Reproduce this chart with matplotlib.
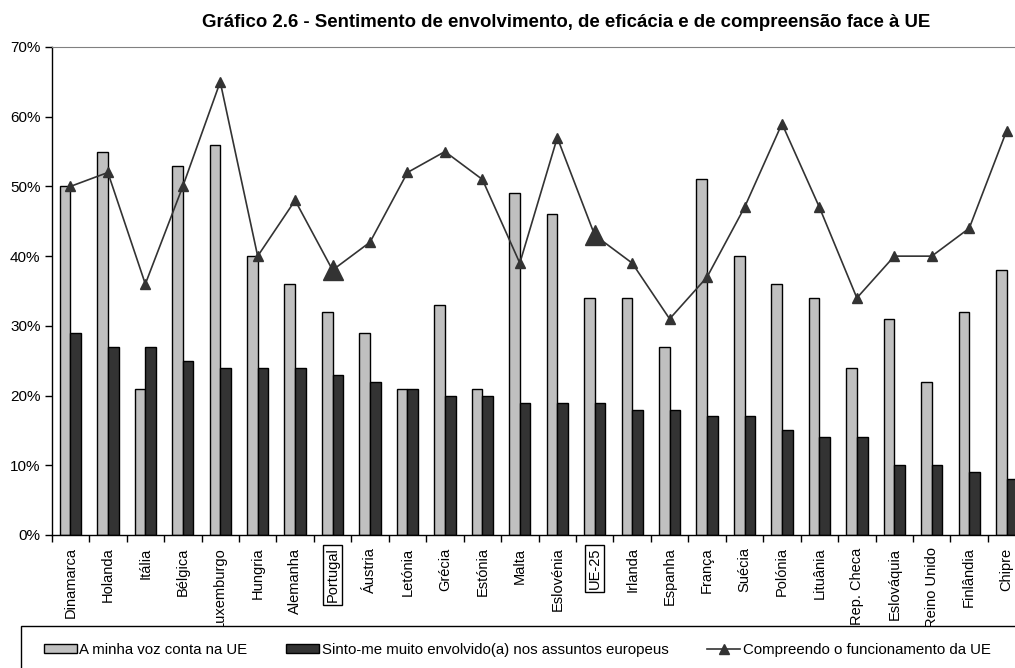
import numpy as np
import matplotlib
matplotlib.use("Agg")
import matplotlib.pyplot as plt
from matplotlib.patches import Patch, Rectangle
from matplotlib.lines import Line2D
from matplotlib.ticker import FixedLocator

plt.rcParams['font.family'] = ['Liberation Sans', 'DejaVu Sans']

paises = ["Dinamarca", "Holanda", "Itália", "Bélgica", "Luxemburgo", "Hungria",
          "Alemanha", "Portugal", "Áustria", "Letónia", "Grécia", "Estónia",
          "Malta", "Eslovénia", "UE-25", "Irlanda", "Espanha", "França", "Suécia",
          "Polónia", "Lituânia", "Rep. Checa", "Eslováquia", "Reino Unido",
          "Finlândia", "Chipre"]
voz_conta = [50, 55, 21, 53, 56, 40, 36, 32, 29, 21, 33, 21, 49, 46, 34, 34,
             27, 51, 40, 36, 34, 24, 31, 22, 32, 38]
envolvido = [29, 27, 27, 25, 24, 24, 24, 23, 22, 21, 20, 20, 19, 19, 19, 18,
             18, 17, 17, 15, 14, 14, 10, 10, 9, 8]
compreendo = [50, 52, 36, 50, 65, 40, 48, 38, 42, 52, 55, 51, 39, 57, 43, 39,
              31, 37, 47, 59, 47, 34, 40, 40, 44, 58]
destaque = ["Portugal", "UE-25"]

W, H = 1015, 668
fig = plt.figure(figsize=(W / 100, H / 100), dpi=100)
ax = fig.add_axes([51.7 / W, (H - 535) / H, 973.7 / W, 488 / H])

x = np.arange(len(paises))
bw = 0.285
ax.bar(x - bw / 2, voz_conta, bw, color="#C0C0C0", edgecolor="black", linewidth=1, zorder=2)
ax.bar(x + bw / 2, envolvido, bw, color="#333333", edgecolor="black", linewidth=1, zorder=2)
ax.plot(x, compreendo, color="#333333", lw=1.2, marker="^", ms=7, zorder=3)
for p in destaque:
    i = paises.index(p)
    ax.plot(x[i], compreendo[i], marker="^", ms=15, color="#333333", zorder=4)

ax.set_xlim(-0.5, len(paises) - 0.5)
ax.set_ylim(0, 70)
ax.set_yticks(np.arange(0, 71, 10))
ax.set_yticklabels([f"{v}%" for v in range(0, 71, 10)], fontsize=11)
ax.tick_params(axis="y", direction="out", length=5, width=1, pad=3)

ax.set_xticks(x)
ax.set_xticklabels(paises, rotation=90, fontsize=10.5, va="top", ha="center")
ax.tick_params(axis="x", which="major", length=0, pad=9)
ax.xaxis.set_minor_locator(FixedLocator(np.arange(-0.5, len(paises), 1)))
ax.tick_params(axis="x", which="minor", direction="out", length=5, width=1)
for lab in ax.get_xticklabels():
    if lab.get_text() in destaque:
        lab.set_bbox(dict(facecolor="none", edgecolor="black", linewidth=1, pad=2))

ax.spines["top"].set_color("#808080")
ax.spines["right"].set_visible(False)
ax.spines["left"].set_linewidth(1)
ax.spines["bottom"].set_linewidth(1)

fig.text(566.5 / W, 1 - 22.5 / H, "Gráfico 2.6 - Sentimento de envolvimento, de eficácia e de compreensão face à UE",
         ha="center", va="center", fontsize=13.4, fontweight="bold")

# caixa da legenda (cortada à direita e em baixo)
caixa = Rectangle((21 / W, -0.05), 1.1, (H - 626) / H + 0.05, transform=fig.transFigure,
                  facecolor="white", edgecolor="black", linewidth=1, zorder=10)
fig.patches.append(caixa)

handles = [Patch(facecolor="#C0C0C0", edgecolor="black"),
           Patch(facecolor="#333333", edgecolor="black"),
           Line2D([], [], color="#333333", lw=1.2, marker="^", ms=7)]
labels = ["A minha voz conta na UE",
          "Sinto-me muito envolvido(a) nos assuntos europeus",
          "Compreendo o funcionamento da UE"]
leg = fig.legend(handles, labels, loc="center left", bbox_to_anchor=(38 / W, 1 - 650 / H),
                 ncol=3, frameon=False, fontsize=10.8, handlelength=2.2, handleheight=0.5,
                 handletextpad=0.15, columnspacing=2.6, borderaxespad=0)
leg.set_zorder(11)

fig.savefig("out.png", dpi=100)
